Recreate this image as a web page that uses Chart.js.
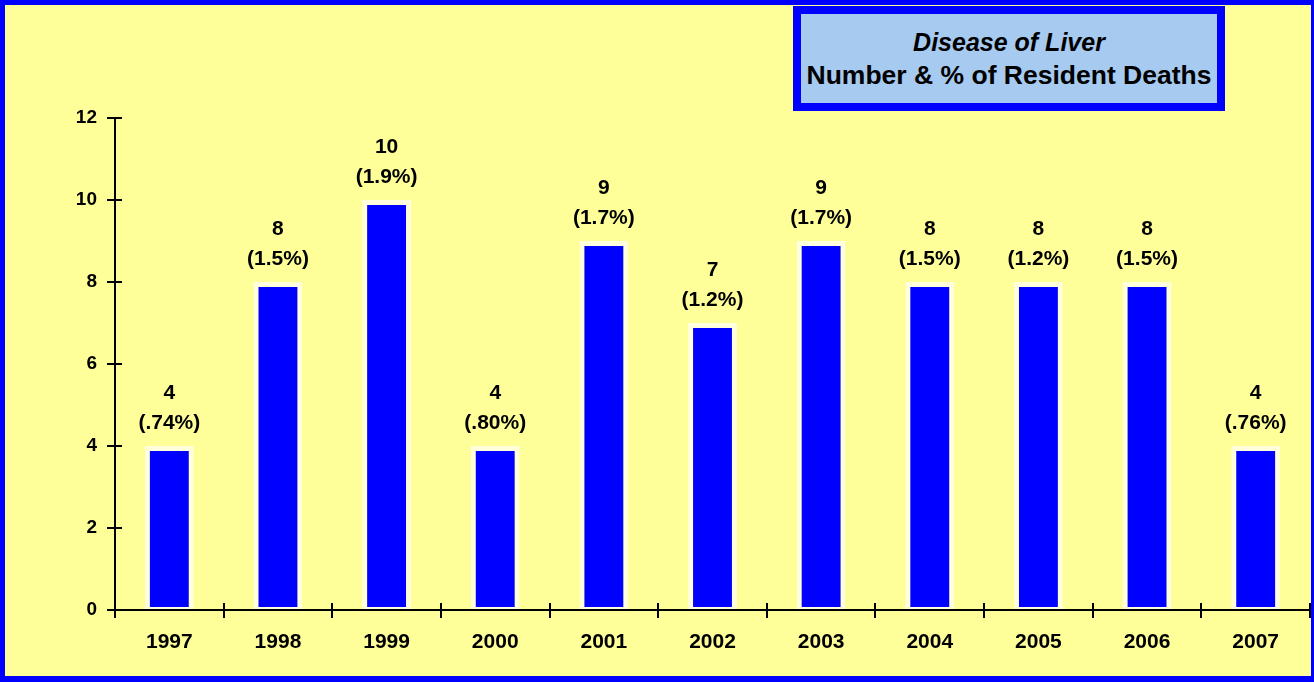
<!DOCTYPE html>
<html>
<head>
<meta charset="utf-8">
<title>Disease of Liver</title>
<script src="https://cdn.jsdelivr.net/npm/chart.js@4.4.1/dist/chart.umd.min.js"></script>
<style>
    html, body { margin: 0; padding: 0; background: #FFFF99; }
    .frame {
        position: relative;
        width: 1314px;
        height: 682px;
        box-sizing: border-box;
        border-style: solid;
        border-color: #0000FF;
        border-width: 5px 3px 6px 5px;
        background: #FFFF99;
        overflow: hidden;
    }
    #chartCanvas { position: absolute; left: 0; top: 0; }
    .title-box {
        position: absolute;
        left: 788px;
        top: 1px;
        width: 432px;
        height: 105px;
        box-sizing: border-box;
        border: 8px solid #0000FF;
        background: #A6CAF0;
        font-family: "Liberation Sans", Arial, sans-serif;
        font-weight: bold;
        color: #000;
        text-align: center;
        padding-top: 12px;
    }
    .title-box .l1 { font-style: italic; font-size: 25px; line-height: 33px; }
    .title-box .l2 { font-size: 26.5px; line-height: 33px; }
</style>
</head>
<body>
<div class="frame">
    <canvas id="chartCanvas" width="1306" height="671"></canvas>
    <div class="title-box">
        <div class="l1">Disease of Liver</div>
        <div class="l2">Number &amp; % of Resident Deaths</div>
    </div>
</div>
<script>
const years = ['1997', '1998', '1999', '2000', '2001', '2002', '2003', '2004', '2005', '2006', '2007'];
const deaths = [4, 8, 10, 4, 9, 7, 9, 8, 8, 8, 4];
const percents = ['(.74%)', '(1.5%)', '(1.9%)', '(.80%)', '(1.7%)', '(1.2%)', '(1.7%)', '(1.5%)', '(1.2%)', '(1.5%)', '(.76%)'];
const yTicks = [0, 2, 4, 6, 8, 10, 12];

const FONT = '"Liberation Sans", Arial, sans-serif';

// tick marks that cross the axis (inner half, the outer half comes from the grid)
const crossTicks = {
    id: 'crossTicks',
    afterDraw(chart) {
        const ctx = chart.ctx;
        const x = chart.scales.x;
        const y = chart.scales.y;
        const area = chart.chartArea;
        ctx.save();
        ctx.strokeStyle = '#000';
        ctx.lineWidth = 2;
        ctx.beginPath();
        yTicks.forEach(v => {
            const py = Math.round(y.getPixelForValue(v));
            ctx.moveTo(area.left, py);
            ctx.lineTo(area.left + 7, py);
        });
        const step = x.getPixelForTick(1) - x.getPixelForTick(0);
        for (let i = 0; i <= years.length; i++) {
            const px = Math.round(x.getPixelForTick(0) - step / 2 + i * step);
            ctx.moveTo(px, area.bottom);
            ctx.lineTo(px, area.bottom - 7);
        }
        ctx.stroke();
        ctx.restore();
    }
};

// number and percent above each bar
const barLabels = {
    id: 'barLabels',
    afterDatasetsDraw(chart) {
        const ctx = chart.ctx;
        const meta = chart.getDatasetMeta(0);
        ctx.save();
        ctx.fillStyle = '#000';
        ctx.font = 'bold 21px ' + FONT;
        ctx.textAlign = 'center';
        ctx.textBaseline = 'middle';
        meta.data.forEach((bar, i) => {
            ctx.fillText(String(deaths[i]), bar.x, bar.y - 53);
            ctx.fillText(percents[i], bar.x, bar.y - 23);
        });
        ctx.restore();
    }
};

new Chart(document.getElementById('chartCanvas').getContext('2d'), {
    type: 'bar',
    data: {
        labels: years,
        datasets: [{
            data: deaths,
            backgroundColor: '#0000FF',
            borderColor: '#FFFFDD',
            borderWidth: { top: 5, left: 5, right: 5, bottom: 2 },
            borderSkipped: false,
            categoryPercentage: 1,
            barPercentage: 0.45
        }]
    },
    options: {
        responsive: false,
        animation: false,
        layout: { padding: { top: 113, right: 1, left: 0, bottom: 0 } },
        plugins: {
            legend: { display: false },
            title: { display: false },
            tooltip: { enabled: false }
        },
        scales: {
            x: {
                grid: {
                    offset: true,
                    drawOnChartArea: false,
                    tickLength: 8,
                    color: '#000',
                    lineWidth: 2
                },
                border: { display: true, color: '#000', width: 2 },
                ticks: {
                    color: '#000',
                    font: { family: FONT, size: 21, weight: 'bold' },
                    padding: 12,
                    maxRotation: 0
                },
                afterFit(scale) { scale.height = 66; }
            },
            y: {
                min: 0,
                max: 12,
                afterBuildTicks(scale) {
                    scale.ticks = yTicks.map(v => ({ value: v }));
                },
                grid: {
                    drawOnChartArea: false,
                    tickLength: 8,
                    color: '#000',
                    lineWidth: 2
                },
                border: { display: true, color: '#000', width: 2 },
                ticks: {
                    color: '#000',
                    font: { family: FONT, size: 19, weight: 'bold' },
                    padding: 10
                },
                afterFit(scale) { scale.width = 110; }
            }
        }
    },
    plugins: [crossTicks, barLabels]
});
</script>
</body>
</html>
